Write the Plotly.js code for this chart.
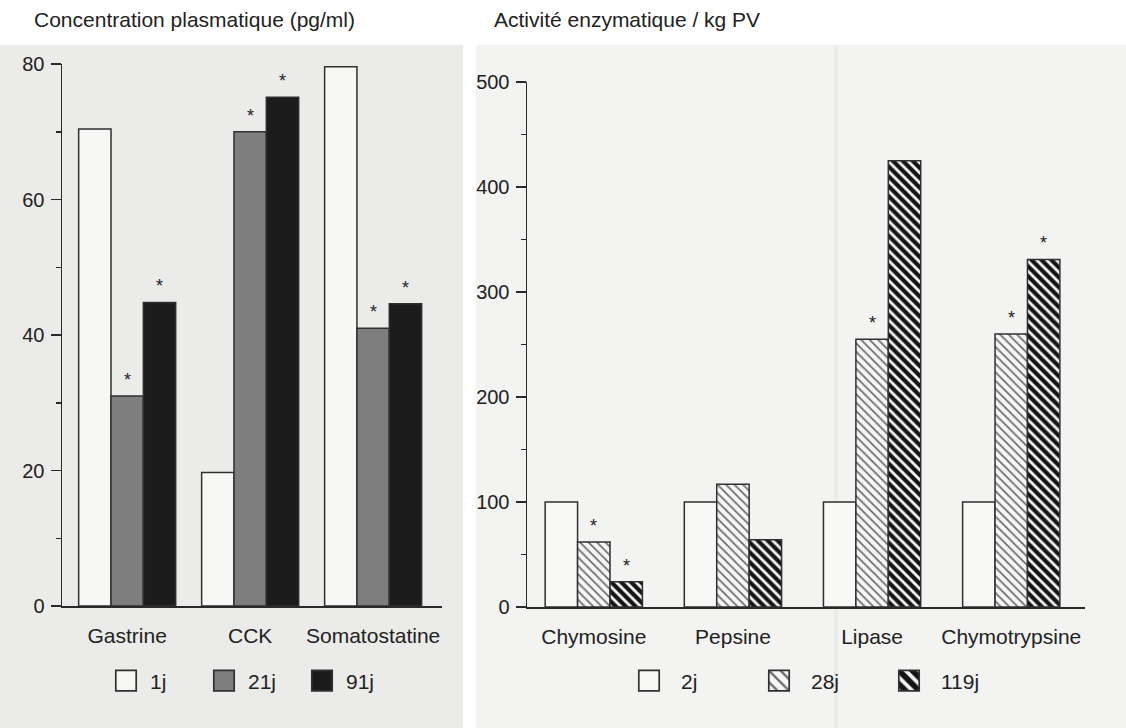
<!DOCTYPE html>
<html>
<head>
<meta charset="utf-8">
<script src="https://cdn.plot.ly/plotly-3.0.1.min.js"></script>
<style>html,body{margin:0;padding:0;background:#fff;overflow:hidden;}#chart{width:1126px;height:728px;}</style>
</head>
<body>
<div id="chart"></div>
<script>
// ---- Left panel data: plasma concentration (pg/ml)
const hormones = ["Gastrine", "CCK", "Somatostatine"];
const hormoneSeries = ["1j", "21j", "91j"];
const hormone1j = [70.4, 19.7, 79.6];
const hormone21j = [31, 70, 41];
const hormone91j = [44.8, 75.1, 44.6];
const hormoneStars1j = ["", "", ""];
const hormoneStars21j = ["*", "*", "*"];
const hormoneStars91j = ["*", "*", "*"];

// ---- Right panel data: enzyme activity / kg PV
const enzymes = ["Chymosine", "Pepsine", "Lipase", "Chymotrypsine"];
const enzymeSeries = ["2j", "28j", "119j"];
const enzyme2j = [100, 100, 100, 100];
const enzyme28j = [62, 117, 255, 260];
const enzyme119j = [24, 64, 425, 331];
const enzymeStars2j = ["", "", "", ""];
const enzymeStars28j = ["*", "", "*", "*"];
const enzymeStars119j = ["*", "", "", "*"];

const FONT = "Liberation Sans, Arial, Helvetica, sans-serif";
const INK = "#2a2a2a";
const outline = {color: "#303030", width: 1.5};

function mk(x, y, name, fill, pattern, xa, ya, leg, w, idx) {
  return {
    type: "bar", x: x, y: y, name: name,
    xaxis: xa, yaxis: ya, legend: leg,
    width: w, offset: -1.5 * w + idx * w,
    marker: Object.assign({color: fill, line: outline}, pattern ? {pattern: pattern} : {}),
    hoverinfo: "skip"
  };
}

// significance stars, placed above the corresponding bar
function stars(cats, vals, marks, xa, ya, w, idx) {
  const out = [];
  marks.forEach(function (m, i) {
    if (!m) return;
    out.push({text: m, xref: xa, yref: ya, x: i - w + idx * w, y: vals[i], yshift: 16,
      yanchor: "middle", xanchor: "center", showarrow: false,
      font: {family: FONT, size: 18, color: "#222"}});
  });
  return out;
}

const wL = 0.263, wR = 0.233;
const lightHatch = {shape: "\\", fgcolor: "#6a6a6a", bgcolor: "#f6f6f6", size: 6, solidity: 0.28, fillmode: "replace"};
const darkHatch = {shape: "\\", fgcolor: "#151515", bgcolor: "#f4f4f4", size: 7, solidity: 0.6, fillmode: "replace"};

const data = [
  mk(hormones, hormone1j, hormoneSeries[0], "#f7f7f5", null, "x", "y", "legend", wL, 0),
  mk(hormones, hormone21j, hormoneSeries[1], "#7e7e7e", null, "x", "y", "legend", wL, 1),
  mk(hormones, hormone91j, hormoneSeries[2], "#1c1c1c", null, "x", "y", "legend", wL, 2),
  mk(enzymes, enzyme2j, enzymeSeries[0], "#f8f8f6", null, "x2", "y2", "legend2", wR, 0),
  mk(enzymes, enzyme28j, enzymeSeries[1], "#f6f6f6", lightHatch, "x2", "y2", "legend2", wR, 1),
  mk(enzymes, enzyme119j, enzymeSeries[2], "#f4f4f4", darkHatch, "x2", "y2", "legend2", wR, 2)
];

const W = 1126, H = 728;
const px = v => v / W, py = v => 1 - v / H;

const yCommon = {
  showline: true, linecolor: INK, linewidth: 1.5, mirror: false,
  ticks: "outside", ticklen: 10, tickwidth: 1.5, tickcolor: INK,
  showgrid: false, zeroline: false, fixedrange: true,
  tickfont: {family: FONT, size: 20, color: "#222"},
  ticklabelstandoff: 2
};
const xCommon = {
  type: "category", showline: true, linecolor: INK, linewidth: 1.5,
  ticks: "", showgrid: false, zeroline: false, fixedrange: true,
  tickfont: {family: FONT, size: 21, color: "#222"},
  ticklabelstandoff: 10
};

const annots = [
  {text: "Concentration plasmatique (pg/ml)", xref: "paper", yref: "paper", x: px(32), y: py(19),
    xanchor: "left", yanchor: "middle", showarrow: false, font: {family: FONT, size: 21, color: "#222"}},
  {text: "Activité enzymatique / kg PV", xref: "paper", yref: "paper", x: px(492), y: py(19),
    xanchor: "left", yanchor: "middle", showarrow: false, font: {family: FONT, size: 21, color: "#222"}}
].concat(
  stars(hormones, hormone21j, hormoneStars21j, "x", "y", wL, 1),
  stars(hormones, hormone91j, hormoneStars91j, "x", "y", wL, 2),
  stars(enzymes, enzyme28j, enzymeStars28j, "x2", "y2", wR, 1),
  stars(enzymes, enzyme119j, enzymeStars119j, "x2", "y2", wR, 2)
);

const layout = {
  width: W, height: H,
  margin: {l: 0, r: 0, t: 0, b: 0, autoexpand: false},
  paper_bgcolor: "#ffffff", plot_bgcolor: "rgba(0,0,0,0)",
  font: {family: FONT, color: "#222"},
  barmode: "overlay",
  xaxis: Object.assign({}, xCommon, {domain: [px(62), px(442)], range: [-0.53, 2.56], anchor: "y"}),
  yaxis: Object.assign({}, yCommon, {domain: [py(606), py(64)], range: [0, 80], dtick: 20, anchor: "x",
    minor: {dtick: 10, ticks: "outside", ticklen: 5, tickwidth: 1.5, tickcolor: INK}}),
  xaxis2: Object.assign({}, xCommon, {domain: [px(527), px(1085)], range: [-0.48, 3.53], anchor: "y2"}),
  yaxis2: Object.assign({}, yCommon, {domain: [py(607), py(82)], range: [0, 500], dtick: 100, anchor: "x2",
    minor: {dtick: 50, ticks: "outside", ticklen: 5, tickwidth: 1.5, tickcolor: INK}}),
  legend: {orientation: "h", x: px(102), xanchor: "left", y: py(681), yanchor: "middle",
    entrywidth: 45, entrywidthmode: "pixels", bgcolor: "rgba(0,0,0,0)", itemwidth: 38,
    font: {family: FONT, size: 21, color: "#222"}, traceorder: "normal", itemclick: false},
  legend2: {orientation: "h", x: px(617), xanchor: "left", y: py(681), yanchor: "middle",
    entrywidth: 61, entrywidthmode: "pixels", bgcolor: "rgba(0,0,0,0)", itemwidth: 54,
    font: {family: FONT, size: 21, color: "#222"}, traceorder: "normal", itemclick: false},
  annotations: annots,
  shapes: [
    {type: "rect", xref: "paper", yref: "paper", x0: 0, x1: px(463), y0: 0, y1: py(45),
      fillcolor: "#ebebe9", line: {width: 0}, layer: "below"},
    {type: "rect", xref: "paper", yref: "paper", x0: px(476), x1: 1, y0: 0, y1: py(45),
      fillcolor: "#f3f3f1", line: {width: 0}, layer: "below"},
    {type: "line", xref: "paper", yref: "paper", x0: px(836), x1: px(836), y0: 0, y1: py(45),
      line: {color: "rgba(0,0,0,0.03)", width: 4}, layer: "below"},
    {type: "line", xref: "x domain", yref: "y", x0: 0, x1: 0, y0: 0, y1: -1, line: {color: INK, width: 1.5}},
    {type: "line", xref: "x2 domain", yref: "y2", x0: 0, x1: 0, y0: 0, y1: -6, line: {color: INK, width: 1.5}}
  ],
  showlegend: true
};

Plotly.newPlot("chart", data, layout, {staticPlot: true, displayModeBar: false}).then(function () {
  document.querySelectorAll(".legendpoints path").forEach(function (p) {
    const old = p.getAttribute("transform") || "";
    p.setAttribute("transform", old + " scale(1.7)");
    p.style.strokeWidth = "1px";
  });
});
</script>
</body>
</html>
